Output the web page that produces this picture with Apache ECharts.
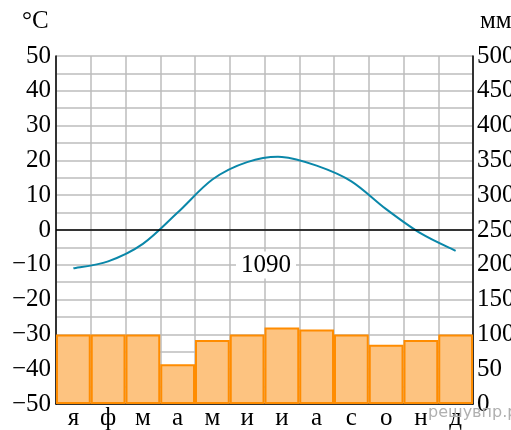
<!DOCTYPE html>
<html><head><meta charset="utf-8">
<script src="https://cdn.jsdelivr.net/npm/echarts@6/dist/echarts.min.js"></script>
<style>html,body{margin:0;padding:0;background:#fff}#c{width:511px;height:430px}</style>
</head><body><div id="c"></div>
<script>
const months = ['я','ф','м','а','м','и','и','а','с','о','н','д'];
const temperature = [-11, -9, -4, 5, 14.5, 19.5, 21, 18.5, 14, 6, -1, -6];
const precipitation = [100, 100, 100, 57, 92, 100, 110, 107, 100, 85, 92, 100];
const annualTotal = '1090';
const tempTicks = [-50, 50, 5];
const precTicks = [0, 500, 50];

const serif = "'Liberation Serif','Times New Roman',serif";

// Smooth (Catmull-Rom style) curve through the data points, positioned via the axes
function renderTempCurve(params, api) {
  if (params.dataIndex !== 0) return null;
  const pts = temperature.map((t, i) => api.coord([i, t]));
  const n = pts.length;
  const P = i => pts[Math.max(0, Math.min(n - 1, i))];
  let d = 'M' + pts[0][0] + ' ' + pts[0][1];
  for (let i = 0; i < n - 1; i++) {
    const p0 = P(i - 1), p1 = P(i), p2 = P(i + 1), p3 = P(i + 2);
    const c1 = [p1[0] + (p2[0] - p0[0]) / 6, p1[1] + (p2[1] - p0[1]) / 6];
    const c2 = [p2[0] - (p3[0] - p1[0]) / 6, p2[1] - (p3[1] - p1[1]) / 6];
    d += ' C' + c1[0] + ' ' + c1[1] + ' ' + c2[0] + ' ' + c2[1] + ' ' + p2[0] + ' ' + p2[1];
  }
  return {type: 'path', shape: {pathData: d},
    style: {fill: 'none', stroke: '#0a87a9', lineWidth: 2}};
}

const chart = echarts.init(document.getElementById('c'), null, {renderer: 'canvas'});
chart.setOption({
  animation: false,
  grid: {left: 56, right: 38, top: 56, bottom: 26, containLabel: false, outerBoundsMode: 'none'},
  xAxis: {
    type: 'category', data: months, boundaryGap: true,
    axisLine: {onZero: false, lineStyle: {color: '#000', width: 1.5}},
    axisTick: {show: false},
    axisLabel: {fontFamily: serif, fontSize: 25, color: '#000', margin: 2},
    splitLine: {show: true, lineStyle: {color: '#bdbdbd', width: 1.5}}
  },
  yAxis: [{
    type: 'value', min: tempTicks[0], max: tempTicks[1], interval: tempTicks[2],
    axisLine: {show: true, onZero: false, lineStyle: {color: '#000', width: 1.5}},
    axisTick: {show: false},
    axisLabel: {fontFamily: serif, fontSize: 25, color: '#000', margin: 5,
      formatter: v => (v % 10 === 0 ? String(v).replace('-', '\u2212') : '')},
    splitLine: {show: true, lineStyle: {color: '#bdbdbd', width: 1.5}}
  }, {
    type: 'value', min: precTicks[0], max: precTicks[1], interval: precTicks[2],
    position: 'right',
    axisLine: {show: true, onZero: false, lineStyle: {color: '#000', width: 1.5}},
    axisTick: {show: false},
    axisLabel: {fontFamily: serif, fontSize: 25, color: '#000', margin: 4},
    splitLine: {show: false}
  }],
  series: [{
    type: 'bar', yAxisIndex: 1, data: precipitation, barCategoryGap: '0%',
    itemStyle: {color: '#fdc380', borderColor: '#ff8c00', borderWidth: 2},
    z: 2
  }, {
    type: 'line', yAxisIndex: 0, data: [], symbol: 'none',
    markLine: {silent: true, symbol: 'none', label: {show: false},
      lineStyle: {color: '#000', width: 1.5, type: 'solid'},
      data: [{yAxis: 0}]},
    z: 3
  }, {
    type: 'custom', yAxisIndex: 0, coordinateSystem: 'cartesian2d',
    data: temperature.map((t, i) => [i, t]),
    encode: {x: 0, y: 1},
    renderItem: renderTempCurve, clip: false, silent: true,
    z: 4
  }],
  graphic: [
    {type: 'text', left: 22, top: 9, style: {text: '°C', font: '25px ' + serif, fill: '#000'}},
    {type: 'text', left: 480, top: 9, style: {text: 'мм', font: '25px ' + serif, fill: '#000'}},
    {type: 'text', x: 266, y: 265, z: 10, style: {text: annualTotal, font: '25px ' + serif, fill: '#000',
      align: 'center', verticalAlign: 'middle', backgroundColor: '#fff', padding: [1, 5]}},
    {type: 'text', left: 428, top: 405, z: 10, style: {text: 'решувпр.рф', font: '16px ' + "'DejaVu Sans',sans-serif", fill: '#b0b0b0'}}
  ]
});
</script></body></html>
